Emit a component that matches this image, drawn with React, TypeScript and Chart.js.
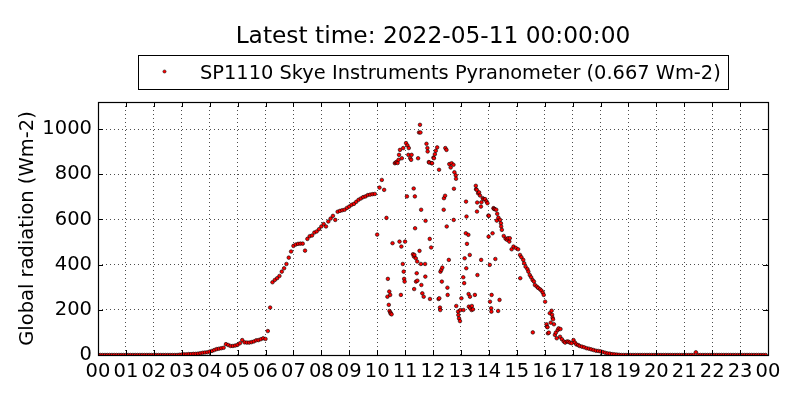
import React, { useEffect, useRef } from "react";
import { Chart, registerables } from "chart.js";

Chart.register(...registerables);

const TITLE = "Latest time: 2022-05-11 00:00:00";
const SERIES_LABEL = "SP1110 Skye Instruments Pyranometer (0.667 Wm-2)";
const Y_LABEL = "Global radiation (Wm-2)";
const X_TICK_HOURS = [0, 1, 2, 3, 4, 5, 6, 7, 8, 9, 10, 11, 12, 13, 14, 15, 16, 17, 18, 19, 20, 21, 22, 23, 24];
const Y_TICKS = [0, 200, 400, 600, 800, 1000];
const Y_MAX = 1120;

// [minute of day, radiation Wm-2]
const nightEarly: [number, number][] = [
  [0, 0], [5, 0], [10, 0], [15, 0], [20, 0], [25, 0], [30, 0], [35, 0], [40, 0], [45, 0], [50, 0], [55, 0],
  [60, 0], [65, 0], [70, 0], [75, 0], [80, 0], [85, 0], [90, 0], [95, 0], [100, 0], [105, 0], [110, 0], [115, 0],
  [120, 0], [125, 0], [130, 0], [135, 0], [140, 0], [145, 0], [150, 0], [155, 0], [160, 0], [165, 0], [170, 0], [175, 1],
];

const dawn: [number, number][] = [
  [180, 2], [185, 3], [190, 3], [195, 4], [200, 4], [205, 5], [210, 5], [215, 6], [220, 8], [225, 10],
  [230, 11], [235, 12], [240, 15], [245, 18], [250, 22], [255, 26], [260, 28], [265, 30], [270, 32], [275, 48],
  [280, 44], [285, 40], [290, 40], [295, 42], [300, 45], [305, 52], [310, 66], [315, 56], [320, 55], [325, 55],
  [330, 57], [335, 60], [340, 65], [345, 66], [350, 70], [355, 74], [360, 71], [365, 106], [370, 210],
];

const morning: [number, number][] = [
  [375, 322], [380, 332], [385, 340], [390, 350], [395, 369], [400, 384], [405, 403], [410, 431], [415, 458],
  [420, 483], [425, 489], [430, 492], [435, 493], [440, 493], [445, 462], [450, 514], [455, 526], [460, 529],
  [465, 542], [470, 547], [475, 557], [480, 569], [485, 580], [490, 569], [495, 591], [500, 604], [505, 616],
  [510, 598], [515, 634], [520, 638], [525, 641], [530, 643], [535, 651], [540, 657], [545, 665], [550, 669],
  [555, 678], [560, 687], [565, 693], [570, 699], [575, 702], [580, 708], [585, 710], [590, 712], [595, 713],
  [600, 533], [605, 741], [610, 775], [615, 731], [620, 607],
];

const midday: [number, number][] = [
  [622, 258], [623, 337], [625, 222], [626, 281], [626.5, 195], [628, 266], [628.5, 188], [629, 183], [631, 180],
  [633, 495], [638, 849], [640, 852], [642, 855], [644, 850], [646, 864], [647, 886], [649, 908], [648, 502],
  [651, 266], [652, 480], [653, 871], [655, 403], [656, 916], [657, 369], [658, 337], [659, 325], [660, 502],
  [662, 938], [664, 702], [665, 928], [667, 886], [668, 916], [671, 871], [673, 864], [674, 886], [677, 446],
  [679, 436], [679.5, 292], [678.5, 737], [680, 443], [681, 702], [681.5, 561], [683, 428], [683.5, 325],
  [685, 362], [686, 414], [686.5, 329], [688, 871], [690, 985], [692, 1019], [693, 985], [691, 461], [694, 403],
  [694.5, 643], [695, 310], [697, 273], [700, 258], [703, 403], [703.5, 347], [704, 594], [706, 935], [708, 916],
  [708.5, 901], [711, 854], [712, 852], [713, 514], [713.5, 248], [716, 476], [717, 849], [718, 849], [721, 874],
  [722, 871], [724, 889], [726, 904], [729, 919], [733, 820], [732, 248], [733.5, 251], [735, 210], [735.5, 199],
  [736, 369], [738, 377], [739, 325], [740, 387], [743, 643], [743.5, 694], [746, 705], [746.5, 916], [749, 908],
  [749.5, 569], [751, 298], [751.5, 266], [754, 421], [755, 845], [758, 830], [760, 849], [764, 842], [764.5, 598],
  [765, 736], [766, 809], [769, 795], [769.5, 780], [770, 217], [774, 192], [774.5, 177], [776, 162], [778, 150],
  [779, 199], [781, 251], [785, 344], [785.5, 199], [787, 318], [788, 428], [791, 679], [791.5, 384], [792, 613],
  [790.5, 539], [793, 492], [796, 532], [796.5, 270], [797, 214], [799, 443], [799.5, 258], [800, 207], [803, 199],
  [803.5, 217], [806, 202], [810, 266], [812, 749], [812.5, 734], [814, 731], [814.5, 635], [815, 675], [815.5, 354],
  [817, 716], [819, 720], [821, 706], [823, 657], [823.5, 421], [824, 676], [827, 694], [829, 690], [832, 690],
  [835, 680], [837, 672], [839, 617], [839.5, 524], [840, 616], [842, 399], [842.5, 236], [845, 207], [845.5, 192],
  [846, 266], [848, 539], [850, 650], [851, 647], [853, 645], [854, 425], [856, 643], [857, 595], [858, 625],
  [860, 195], [860.5, 608], [863, 244], [864, 598], [866, 583], [866.5, 569], [868, 554], [872, 527], [876, 515],
  [879, 510], [881, 517], [884, 502], [885, 517], [889, 468], [893, 480], [898, 474], [903, 468],
];

const afternoon: [number, number][] = [
  [907, 443], [907.5, 340], [910, 433], [914, 421], [916, 406], [919, 391], [923, 380], [925, 369], [928, 354],
  [931, 344], [934, 332], [934.5, 100], [937, 325], [939, 310], [943, 303], [946, 297], [950, 291], [953, 285],
  [956, 276], [958, 266], [961, 236], [964, 136], [965, 125], [966, 123], [967, 96], [969, 99], [971, 185],
  [973, 143], [975, 196], [976, 178], [977, 165], [978, 158], [980, 136], [982, 89], [984, 99], [986, 74],
  [988, 110], [990, 118], [993, 81], [994, 115], [997, 70], [1001, 60], [1004, 55], [1008, 60], [1011, 59],
  [1014, 55], [1018, 52], [1022, 66], [1025, 55], [1028, 47], [1032, 44], [1035, 40], [1040, 37], [1045, 34],
  [1050, 30], [1055, 28], [1060, 25], [1065, 22], [1070, 19], [1075, 18], [1080, 16], [1085, 13], [1090, 10],
  [1095, 7], [1100, 6], [1105, 4], [1110, 3], [1115, 2], [1120, 1],
];

const nightLate: [number, number][] = [
  [1125, 0], [1130, 0], [1135, 0], [1140, 0], [1145, 0], [1150, 0], [1155, 0], [1160, 0], [1165, 0], [1170, 0],
  [1175, 0], [1180, 0], [1185, 0], [1190, 0], [1195, 0], [1200, 0], [1205, 0], [1210, 0], [1215, 0], [1220, 0],
  [1225, 0], [1230, 0], [1235, 0], [1240, 0], [1245, 0], [1250, 0], [1255, 0], [1260, 0], [1265, 0], [1270, 0],
  [1275, 0], [1280, 0], [1285, 12], [1290, 0], [1295, 0], [1300, 0], [1305, 0], [1310, 0], [1315, 0], [1320, 0],
  [1325, 0], [1330, 0], [1335, 0], [1340, 0], [1345, 0], [1350, 0], [1355, 0], [1360, 0], [1365, 0], [1370, 0],
  [1375, 0], [1380, 0], [1385, 0], [1390, 0], [1395, 0], [1400, 0], [1405, 0], [1410, 0], [1415, 0], [1420, 0],
  [1425, 0], [1430, 0], [1435, 0],
];

const FONT = '"DejaVu Sans", "Liberation Sans", sans-serif';
const POINT_FILL = "#ff0000";
const POINT_EDGE = "#000000";

export default function App() {
  const ref = useRef<HTMLCanvasElement>(null);

  useEffect(() => {
    if (!ref.current) return;
    const points = [...nightEarly, ...dawn, ...morning, ...midday, ...afternoon, ...nightLate].map(([m, v]) => ({
      x: m / 60,
      y: v,
    }));

    const decorations = {
      id: "decorations",
      afterDraw(chart: any) {
        const { ctx, chartArea: a, scales } = chart;
        ctx.save();
        // inward ticks
        ctx.strokeStyle = "#000";
        ctx.lineWidth = 1;
        ctx.setLineDash([]);
        const tl = 5;
        ctx.beginPath();
        for (const h of X_TICK_HOURS) {
          const px = Math.round(scales.x.getPixelForValue(h)) + 0.5;
          ctx.moveTo(px, a.bottom);
          ctx.lineTo(px, a.bottom - tl);
          ctx.moveTo(px, a.top);
          ctx.lineTo(px, a.top + tl);
        }
        for (const v of Y_TICKS) {
          const py = Math.round(scales.y.getPixelForValue(v)) + 0.5;
          ctx.moveTo(a.left, py);
          ctx.lineTo(a.left + tl, py);
          ctx.moveTo(a.right, py);
          ctx.lineTo(a.right - tl, py);
        }
        ctx.stroke();
        // frame
        ctx.lineWidth = 1.2;
        ctx.strokeRect(Math.round(a.left) + 0.5, Math.round(a.top) + 0.5, Math.round(a.right - a.left), Math.round(a.bottom - a.top));

        // title
        ctx.fillStyle = "#000";
        ctx.font = `23.3px ${FONT}`;
        ctx.textAlign = "center";
        ctx.textBaseline = "alphabetic";
        ctx.fillText(TITLE, (a.left + a.right) / 2, 42.5);

        // legend box
        ctx.lineWidth = 1;
        ctx.strokeRect(138.5, 55.5, 590, 34);
        ctx.beginPath();
        ctx.arc(164.5, 71.5, 1.6, 0, Math.PI * 2);
        ctx.fillStyle = POINT_FILL;
        ctx.fill();
        ctx.lineWidth = 0.5;
        ctx.strokeStyle = POINT_EDGE;
        ctx.stroke();
        ctx.fillStyle = "#000";
        ctx.font = `19.4px ${FONT}`;
        ctx.textAlign = "left";
        ctx.fillText(SERIES_LABEL, 200, 78.5);
        ctx.restore();
      },
    };

    const chart = new Chart(ref.current, {
      type: "scatter",
      data: {
        datasets: [
          {
            label: SERIES_LABEL,
            data: points,
            pointRadius: 1.8,
            pointBorderWidth: 0.6,
            backgroundColor: POINT_FILL,
            borderColor: POINT_EDGE,
            pointBackgroundColor: POINT_FILL,
            pointBorderColor: POINT_EDGE,
          },
        ],
      },
      options: {
        animation: false,
        responsive: false,
        layout: { padding: { left: 0, right: 32, top: 102, bottom: 0 } },
        plugins: {
          legend: { display: false },
          title: { display: false },
          tooltip: { enabled: false },
        },
        scales: {
          x: {
            type: "linear",
            min: 0,
            max: 24,
            afterFit: (s: any) => {
              s.height = 45;
            },
            afterBuildTicks: (s: any) => {
              s.ticks = X_TICK_HOURS.map((v) => ({ value: v }));
            },
            ticks: {
              autoSkip: false,
              maxRotation: 0,
              minRotation: 0,
              padding: 5,
              color: "#000",
              font: { family: FONT, size: 19.5 },
              callback: (v: any) => String(Number(v) % 24).padStart(2, "0"),
            },
            grid: { color: "#000", lineWidth: 0.7, drawTicks: false },
            border: { display: false, dash: [1, 3] },
          },
          y: {
            type: "linear",
            min: 0,
            max: Y_MAX,
            afterFit: (s: any) => {
              s.width = 98;
            },
            afterBuildTicks: (s: any) => {
              s.ticks = Y_TICKS.map((v) => ({ value: v }));
            },
            ticks: {
              padding: 6,
              color: "#000",
              font: { family: FONT, size: 19.5 },
              callback: (v: any) => String(v),
            },
            grid: { color: "#000", lineWidth: 0.7, drawTicks: false },
            border: { display: false, dash: [1, 3] },
            title: {
              display: true,
              text: Y_LABEL,
              color: "#000",
              font: { family: FONT, size: 19.5 },
              padding: { top: 16, bottom: 0 },
            },
          },
        },
      },
      plugins: [decorations],
    });
    return () => chart.destroy();
  }, []);

  return (
    <div style={{ position: "fixed", left: 0, top: 0, width: 800, height: 400, background: "#fff" }}>
      <canvas ref={ref} width={800} height={400} style={{ display: "block", width: 800, height: 400 }} />
    </div>
  );
}
